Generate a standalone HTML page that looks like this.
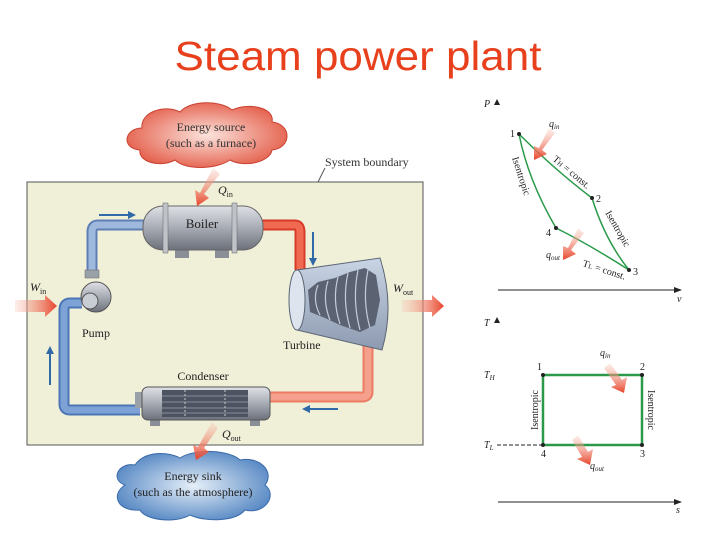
<!DOCTYPE html>
<html><head><meta charset="utf-8"><style>
html,body{margin:0;padding:0;background:#fff;width:720px;height:540px;overflow:hidden}
svg{display:block}
</style></head><body>
<svg width="720" height="540" viewBox="0 0 720 540" xmlns="http://www.w3.org/2000/svg" font-family="Liberation Serif, serif">
<defs>
<linearGradient id="rg" x1="0" y1="0" x2="1" y2="0"><stop offset="0" stop-color="#f7c6b6" stop-opacity="0.3"/><stop offset="1" stop-color="#e8432a"/></linearGradient>
<linearGradient id="rgd" x1="0" y1="0" x2="0" y2="1"><stop offset="0" stop-color="#f7c6b6" stop-opacity="0.3"/><stop offset="1" stop-color="#e8432a"/></linearGradient>
<radialGradient id="cr" cx="0.5" cy="0.5" r="0.6"><stop offset="0" stop-color="#fbe3dc"/><stop offset="1" stop-color="#e2513c"/></radialGradient>
<radialGradient id="cb" cx="0.5" cy="0.5" r="0.6"><stop offset="0" stop-color="#e6eff8"/><stop offset="1" stop-color="#4a7fbf"/></radialGradient>
<linearGradient id="metal" x1="0" y1="0" x2="0" y2="1"><stop offset="0" stop-color="#dfe1e6"/><stop offset="0.5" stop-color="#a7abb4"/><stop offset="1" stop-color="#6c707a"/></linearGradient>
<linearGradient id="tb" x1="0" y1="0" x2="0" y2="1"><stop offset="0" stop-color="#c9d4e4"/><stop offset="1" stop-color="#8d9ab0"/></linearGradient>
</defs>

<text x="358" y="70" text-anchor="middle" font-family="Liberation Sans, sans-serif" font-size="41" fill="#e8401c" textLength="367" lengthAdjust="spacingAndGlyphs">Steam power plant</text>

<rect x="27" y="182" width="396" height="263" fill="#f0efd8" stroke="#555" stroke-width="1"/>
<line x1="318" y1="182" x2="325" y2="168" stroke="#555"/>
<text x="325" y="166" font-size="12" fill="#333">System boundary</text>

<path d="M140,150 C120,148 125,128 142,128 C140,112 165,104 180,112 C190,100 220,100 232,110 C250,102 275,108 272,122 C292,124 292,148 272,150 C270,162 245,168 230,160 C215,170 185,170 175,160 C160,168 138,162 140,150Z" fill="url(#cr)" stroke="#c94030" stroke-width="1"/>
<text x="211" y="131" text-anchor="middle" font-size="12" fill="#333">Energy source</text>
<text x="211" y="147" text-anchor="middle" font-size="12" fill="#333">(such as a furnace)</text>

<path d="M125,485 C110,480 118,462 135,465 C145,450 170,452 180,458 C195,448 230,450 240,460 C260,456 275,472 265,485 C278,495 265,515 245,510 C235,522 205,522 190,515 C175,524 145,520 140,510 C118,512 110,495 125,485Z" fill="url(#cb)" stroke="#3a6aa8" stroke-width="1"/>
<text x="193" y="480" text-anchor="middle" font-size="12" fill="#222">Energy sink</text>
<text x="193" y="496" text-anchor="middle" font-size="12" fill="#222">(such as the atmosphere)</text>

<path d="M145,225 H98 Q92,225 92,232 V270" fill="none" stroke="#5f7fb5" stroke-width="11"/>
<path d="M145,225 H98 Q92,225 92,232 V270" fill="none" stroke="#9fb8dd" stroke-width="7"/>
<path d="M260,225 H295 Q300,225 300,232 V270" fill="none" stroke="#d73b28" stroke-width="11"/>
<path d="M260,225 H295 Q300,225 300,232 V270" fill="none" stroke="#ef6a50" stroke-width="7"/>
<path d="M82,303 H70 Q64,303 64,310 V404 Q64,410 70,410 H140" fill="none" stroke="#4b76b6" stroke-width="11"/>
<path d="M82,303 H70 Q64,303 64,310 V404 Q64,410 70,410 H140" fill="none" stroke="#7fa2d6" stroke-width="7"/>
<path d="M368,345 V392 Q368,397 362,397 H268" fill="none" stroke="#ec7b64" stroke-width="11"/>
<path d="M368,345 V392 Q368,397 362,397 H268" fill="none" stroke="#f4a08c" stroke-width="7"/>

<rect x="175" y="248" width="14" height="10" fill="#8a8e96"/>
<rect x="215" y="248" width="14" height="10" fill="#8a8e96"/>
<rect x="143" y="206" width="120" height="44" rx="20" fill="url(#metal)" stroke="#666"/>
<rect x="163" y="203" width="5" height="50" fill="#bfc2c8" stroke="#666" stroke-width="0.5"/>
<rect x="232" y="203" width="5" height="50" fill="#bfc2c8" stroke="#666" stroke-width="0.5"/>
<text x="202" y="228" text-anchor="middle" font-size="13" fill="#222">Boiler</text>

<path d="M297,270 L380,258 Q395,305 382,350 L297,330 Z" fill="url(#tb)" stroke="#5a6474"/>
<ellipse cx="297" cy="300" rx="8" ry="30" fill="#dde4ee" stroke="#5a6474"/>
<path d="M308,290 L318,282 L335,278 L350,272 L365,268 L376,275 L380,300 L375,325 L360,332 L340,325 L325,318 L310,312 Z" fill="#5b6272"/>
<g stroke="#c5ccd8" stroke-width="1.2" fill="none">
<path d="M318,285 Q312,300 320,315"/><path d="M328,281 Q322,300 330,320"/><path d="M338,277 Q332,300 340,324"/><path d="M348,273 Q342,300 350,328"/><path d="M358,270 Q352,300 360,330"/><path d="M368,270 Q362,300 370,328"/></g>
<text x="283" y="349" font-size="12" fill="#222">Turbine</text>

<rect x="150" y="418" width="10" height="8" fill="#8a8e96"/>
<rect x="250" y="418" width="10" height="8" fill="#8a8e96"/>
<rect x="135" y="392" width="10" height="16" fill="#9aa0a8"/>
<rect x="142" y="387" width="128" height="33" rx="6" fill="url(#metal)" stroke="#555"/>
<rect x="162" y="390" width="86" height="27" fill="#4d5360"/>
<g stroke="#9aa2b0" stroke-width="0.8"><line x1="162" y1="396" x2="248" y2="396"/><line x1="162" y1="402" x2="248" y2="402"/><line x1="162" y1="408" x2="248" y2="408"/><line x1="162" y1="413" x2="248" y2="413"/></g>
<line x1="185" y1="390" x2="185" y2="417" stroke="#ccc" stroke-dasharray="2,2"/>
<line x1="225" y1="390" x2="225" y2="417" stroke="#ccc" stroke-dasharray="2,2"/>
<text x="203" y="380" text-anchor="middle" font-size="12" fill="#222">Condenser</text>

<rect x="85" y="270" width="14" height="8" fill="#9aa0a8" stroke="#666" stroke-width="0.5"/>
<circle cx="96" cy="297" r="15" fill="url(#metal)" stroke="#555"/>
<circle cx="90" cy="301" r="8" fill="#c8ccd3" stroke="#555"/>
<text x="82" y="337" font-size="12" fill="#222">Pump</text>

<g stroke="#2f6aa6" stroke-width="2" fill="#2f6aa6">
<line x1="99" y1="215" x2="130" y2="215"/><path d="M136,215 L128,211 L128,219Z" stroke="none"/>
<line x1="313" y1="232" x2="313" y2="260"/><path d="M313,266 L309,258 L317,258Z" stroke="none"/>
<line x1="50" y1="385" x2="50" y2="352"/><path d="M50,346 L46,354 L54,354Z" stroke="none"/>
<line x1="338" y1="409" x2="308" y2="409"/><path d="M302,409 L310,405 L310,413Z" stroke="none"/>
</g>

<path d="M15,300 H45 V295 L57,306 L45,317 V312 H15Z" fill="url(#rg)"/>
<path d="M402,300 H432 V295 L444,306 L432,317 V312 H402Z" fill="url(#rg)"/>
<path d="M213,168 L220,174 L204,194 L209,198 L197,206 L195,190 L200,193 L213,168Z" fill="url(#rgd)"/>
<path d="M212,422 L218,428 L204,448 L209,452 L196,460 L193,445 L198,447 Z" fill="url(#rgd)"/>
<text x="30" y="291" font-size="12" font-style="italic" fill="#222">W<tspan font-size="8" font-style="normal" dy="3">in</tspan></text>
<text x="393" y="292" font-size="12" font-style="italic" fill="#222">W<tspan font-size="8" font-style="normal" dy="3">out</tspan></text>
<text x="218" y="194" font-size="12" font-style="italic" fill="#222">Q<tspan font-size="8" font-style="normal" dy="3">in</tspan></text>
<text x="222" y="438" font-size="12" font-style="italic" fill="#222">Q<tspan font-size="8" font-style="normal" dy="3">out</tspan></text>

<g font-size="10" fill="#222">
<text x="484" y="107" font-style="italic">P</text><path d="M497,99 L494,105 L500,105Z" fill="#222"/>
<line x1="498" y1="290" x2="676" y2="290" stroke="#222"/><path d="M682,290 L674,287 L674,293Z" fill="#222"/>
<text x="677" y="302" font-style="italic">v</text>
<g fill="none" stroke="#2a9a4a" stroke-width="1.5">
<path d="M519,134 Q555,170 592,198"/>
<path d="M592,198 Q605,240 629,270"/>
<path d="M629,270 Q590,245 556,228"/>
<path d="M556,228 Q528,180 519,134"/>
</g>
<g fill="#222"><circle cx="519" cy="134" r="2"/><circle cx="592" cy="198" r="2"/><circle cx="629" cy="270" r="2"/><circle cx="556" cy="228" r="2"/></g>
<text x="510" y="137">1</text><text x="596" y="202">2</text><text x="633" y="275">3</text><text x="546" y="236">4</text>
<text x="549" y="127" font-style="italic">q<tspan font-size="7" dy="2">in</tspan></text>
<text x="546" y="258" font-style="italic">q<tspan font-size="7" dy="2">out</tspan></text>
<text transform="translate(552,160) rotate(40)" font-size="10">T<tspan font-size="7">H</tspan> = const.</text>
<text transform="translate(582,266) rotate(18)" font-size="10">T<tspan font-size="7">L</tspan> = const.</text>
<text transform="translate(512,158) rotate(72)" font-size="10">Isentropic</text>
<text transform="translate(605,213) rotate(60)" font-size="10">Isentropic</text>
<path d="M549,128 L555,133 L542,150 L547,154 L534,160 L534,146 L539,148Z" fill="url(#rgd)"/>
<path d="M578,228 L584,233 L571,250 L576,254 L563,260 L563,246 L568,248Z" fill="url(#rgd)"/>

<text x="484" y="326" font-style="italic">T</text><path d="M497,317 L494,323 L500,323Z" fill="#222"/>
<line x1="498" y1="502" x2="676" y2="502" stroke="#222"/><path d="M682,502 L674,499 L674,505Z" fill="#222"/>
<text x="676" y="513" font-style="italic">s</text>
<text x="484" y="378" font-style="italic">T<tspan font-size="7" dy="2">H</tspan></text>
<text x="484" y="448" font-style="italic">T<tspan font-size="7" dy="2">L</tspan></text>
<line x1="497" y1="445" x2="543" y2="445" stroke="#222" stroke-dasharray="4,2"/>
<rect x="543" y="375" width="99" height="70" fill="none" stroke="#2a9a4a" stroke-width="2.5"/>
<g fill="#222"><circle cx="543" cy="375" r="2"/><circle cx="642" cy="375" r="2"/><circle cx="642" cy="445" r="2"/><circle cx="543" cy="445" r="2"/></g>
<text x="537" y="370">1</text><text x="640" y="370">2</text><text x="640" y="457">3</text><text x="541" y="457">4</text>
<text x="600" y="356" font-style="italic">q<tspan font-size="7" dy="2">in</tspan></text>
<text x="590" y="469" font-style="italic">q<tspan font-size="7" dy="2">out</tspan></text>
<text transform="translate(538,430) rotate(-90)" font-size="10">Isentropic</text>
<text transform="translate(648,390) rotate(90)" font-size="10">Isentropic</text>
<path d="M604,368 L610,363 L622,380 L627,377 L624,393 L611,387 L616,385Z" fill="url(#rgd)"/>
<path d="M572,440 L578,435 L588,452 L593,449 L590,465 L577,459 L582,457Z" fill="url(#rgd)"/>
</g>
</svg>
</body></html>
